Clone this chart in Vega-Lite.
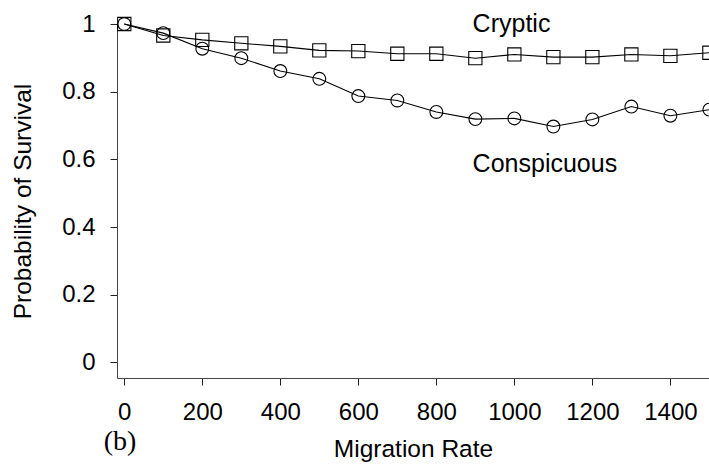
{
  "$schema": "https://vega.github.io/schema/vega-lite/v6.json",
  "width": 592,
  "height": 354,
  "autosize": {"type": "none"},
  "padding": {"left": 117, "top": 24, "right": 0, "bottom": 87},
  "background": "white",
  "config": {
    "view": {"stroke": null},
    "font": "Liberation Sans",
    "axis": {"grid": false, "domainColor": "#444", "tickColor": "#222", "labelColor": "#000", "titleColor": "#000", "labelFont": "Liberation Sans", "titleFont": "Liberation Sans", "titleFontWeight": "normal", "labelFontSize": 24, "titleFontSize": 24.5, "tickSize": 7}
  },
  "datasets": {
    "series": [
      {"rate": 0, "p": 1.0, "type": "Cryptic"},
      {"rate": 100, "p": 0.966, "type": "Cryptic"},
      {"rate": 200, "p": 0.953, "type": "Cryptic"},
      {"rate": 300, "p": 0.943, "type": "Cryptic"},
      {"rate": 400, "p": 0.934, "type": "Cryptic"},
      {"rate": 500, "p": 0.922, "type": "Cryptic"},
      {"rate": 600, "p": 0.920, "type": "Cryptic"},
      {"rate": 700, "p": 0.912, "type": "Cryptic"},
      {"rate": 800, "p": 0.912, "type": "Cryptic"},
      {"rate": 900, "p": 0.899, "type": "Cryptic"},
      {"rate": 1000, "p": 0.910, "type": "Cryptic"},
      {"rate": 1100, "p": 0.902, "type": "Cryptic"},
      {"rate": 1200, "p": 0.902, "type": "Cryptic"},
      {"rate": 1300, "p": 0.910, "type": "Cryptic"},
      {"rate": 1400, "p": 0.906, "type": "Cryptic"},
      {"rate": 1500, "p": 0.915, "type": "Cryptic"},
      {"rate": 0, "p": 1.0, "type": "Conspicuous"},
      {"rate": 100, "p": 0.973, "type": "Conspicuous"},
      {"rate": 200, "p": 0.927, "type": "Conspicuous"},
      {"rate": 300, "p": 0.899, "type": "Conspicuous"},
      {"rate": 400, "p": 0.861, "type": "Conspicuous"},
      {"rate": 500, "p": 0.838, "type": "Conspicuous"},
      {"rate": 600, "p": 0.787, "type": "Conspicuous"},
      {"rate": 700, "p": 0.774, "type": "Conspicuous"},
      {"rate": 800, "p": 0.740, "type": "Conspicuous"},
      {"rate": 900, "p": 0.719, "type": "Conspicuous"},
      {"rate": 1000, "p": 0.721, "type": "Conspicuous"},
      {"rate": 1100, "p": 0.697, "type": "Conspicuous"},
      {"rate": 1200, "p": 0.718, "type": "Conspicuous"},
      {"rate": 1300, "p": 0.756, "type": "Conspicuous"},
      {"rate": 1400, "p": 0.729, "type": "Conspicuous"},
      {"rate": 1500, "p": 0.747, "type": "Conspicuous"}
    ],
    "labels": [
      {"rate": 893, "p": 0.975, "label": "Cryptic"},
      {"rate": 893, "p": 0.564, "label": "Conspicuous"}
    ],
    "panel": [
      {"rate": -11, "p": -0.258, "label": "(b)"}
    ]
  },
  "layer": [
    {
      "data": {"name": "series"},
      "mark": {"type": "line", "color": "#000", "strokeWidth": 1.1},
      "encoding": {
        "x": {"field": "rate", "type": "quantitative", "scale": {"domain": [-18.7, 1499], "nice": false, "zero": false},
          "axis": {"title": "Migration Rate", "values": [0, 200, 400, 600, 800, 1000, 1200, 1400], "format": "d", "labelPadding": 15, "titlePadding": 13, "labelFlush": false, "labelOverlap": false}},
        "y": {"field": "p", "type": "quantitative", "scale": {"domain": [-0.046, 1.0], "nice": false, "zero": false},
          "axis": {"title": "Probability of Survival", "values": [0, 0.2, 0.4, 0.6, 0.8, 1], "format": ".1~f", "labelPadding": 15, "titlePadding": 26, "labelFlush": false, "labelOverlap": false}},
        "detail": {"field": "type"}
      }
    },
    {
      "data": {"name": "series"},
      "mark": {"type": "point", "filled": false, "stroke": "#000", "strokeWidth": 1.1, "opacity": 1},
      "encoding": {
        "x": {"field": "rate", "type": "quantitative"},
        "y": {"field": "p", "type": "quantitative"},
        "shape": {"field": "type", "type": "nominal", "scale": {"domain": ["Conspicuous", "Cryptic"], "range": ["circle", "square"]}, "legend": null},
        "size": {"field": "type", "type": "nominal", "scale": {"domain": ["Conspicuous", "Cryptic"], "range": [165, 175]}, "legend": null}
      }
    },
    {
      "data": {"name": "labels"},
      "mark": {"type": "text", "align": "left", "baseline": "alphabetic", "fontSize": 25, "font": "Liberation Sans", "color": "#000"},
      "encoding": {
        "x": {"field": "rate", "type": "quantitative"},
        "y": {"field": "p", "type": "quantitative"},
        "text": {"field": "label"}
      }
    },
    {
      "data": {"name": "panel"},
      "mark": {"type": "text", "align": "center", "baseline": "alphabetic", "fontSize": 28, "font": "Liberation Serif", "color": "#000"},
      "encoding": {
        "x": {"field": "rate", "type": "quantitative"},
        "y": {"field": "p", "type": "quantitative"},
        "text": {"field": "label"}
      }
    }
  ]
}
